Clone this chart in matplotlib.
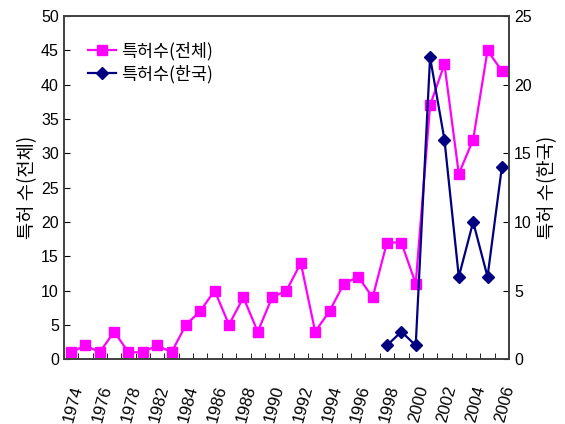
import matplotlib
matplotlib.use("Agg")
import matplotlib.pyplot as plt
import numpy as np

plt.rcParams['font.family'] = ['Noto Sans CJK KR', 'DejaVu Sans']

## categories (31 years, 1979-1981 gap shown as one slot)
years = [1974, 1975, 1976, 1977, 1978, 1980, 1982, 1983, 1984, 1985, 1986,
         1987, 1988, 1989, 1990, 1991, 1992, 1993, 1994, 1995, 1996, 1997,
         1998, 1999, 2000, 2001, 2002, 2003, 2004, 2005, 2006]
total = [1, 2, 1, 4, 1, 1, 2, 1, 5, 7, 10, 5, 9, 4, 9, 10, 14, 4, 7, 11,
         12, 9, 17, 17, 11, 37, 43, 27, 32, 45, 42]
korea_years = [1998, 1999, 2000, 2001, 2002, 2003, 2004, 2005, 2006]
korea = [1, 2, 1, 22, 16, 6, 10, 6, 14]
tick_labels = ['1974', '1976', '1978', '1982', '1984', '1986', '1988', '1990',
               '1992', '1994', '1996', '1998', '2000', '2002', '2004', '2006']

x = np.arange(len(years))
xk = [years.index(y) for y in korea_years]

fig = plt.figure(figsize=(5.65, 4.24), dpi=100)
ax = fig.add_axes([0.113, 0.153, 0.788, 0.809])
ax2 = ax.twinx()

l1, = ax.plot(x, total, color='#ff00ff', marker='s', markersize=7.5, lw=1.6,
              label='특허수(전체)')
l2, = ax2.plot(xk, korea, color='#000080', marker='D', markersize=6.5, lw=1.6,
               label='특허수(한국)')

ax.set_xlim(-0.5, len(years) - 0.5)
ax.set_ylim(0, 50)
ax2.set_ylim(0, 25)
ax.set_yticks(range(0, 51, 5))
ax2.set_yticks(range(0, 26, 5))
ax.set_xticks(x[::2])
ax.set_xticklabels(tick_labels, rotation=75, ha='right', rotation_mode='anchor',
                   family='Liberation Sans', fontsize=12)
ax.set_xticks(np.arange(-0.5, len(years), 1), minor=True)
ax.tick_params(axis='x', which='major', length=0, pad=18)
ax.tick_params(axis='x', which='minor', direction='in', length=4)
ax.tick_params(axis='y', direction='in', length=4, labelsize=11.5)
ax2.tick_params(axis='y', direction='in', length=4, labelsize=11.5)
for lab in ax.get_yticklabels() + ax2.get_yticklabels():
    lab.set_family('Liberation Sans')

ax.set_ylabel('특허 수(전체)', fontsize=13.5, labelpad=2)
ax2.set_ylabel('특허 수(한국)', fontsize=13.5, rotation=90, labelpad=4)

for a in (ax, ax2):
    for s in a.spines.values():
        s.set_color('#404040')
        s.set_linewidth(1.2)

ax.legend(handles=[l1, l2], loc='upper left', frameon=False, fontsize=12.5,
          bbox_to_anchor=(0.02, 0.97), handlelength=1.6, handletextpad=0.3,
          labelspacing=0.25)

fig.savefig("out.png")
